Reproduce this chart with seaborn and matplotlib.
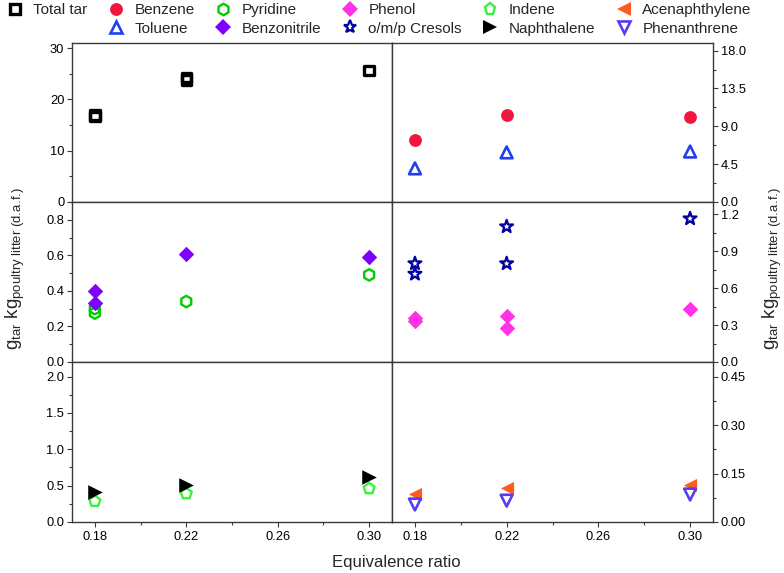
import numpy as np
import pandas as pd
import matplotlib
matplotlib.use("Agg")
import matplotlib.pyplot as plt
from matplotlib.lines import Line2D
from matplotlib.ticker import FixedLocator, FormatStrFormatter
import seaborn as sns

sns.set_style("ticks")
plt.rcParams['font.family'] = ['Liberation Sans', 'DejaVu Sans']
plt.rcParams['mathtext.fontset'] = 'custom'
plt.rcParams['mathtext.rm'] = 'Liberation Sans'
plt.rcParams['mathtext.it'] = 'Liberation Sans:italic'

# ---------------- data ----------------
tar_x = [0.18, 0.18, 0.22, 0.22, 0.30]
tar_y = [17.0, 16.7, 24.3, 23.8, 25.6]

benzene_x = [0.18, 0.22, 0.30]
benzene_y = [7.4, 10.4, 10.1]
toluene_x = [0.18, 0.22, 0.30]
toluene_y = [4.0, 5.9, 6.0]

pyridine_x = [0.18, 0.18, 0.22, 0.30]
pyridine_y = [0.30, 0.275, 0.34, 0.49]
benzonitrile_x = [0.18, 0.18, 0.22, 0.30]
benzonitrile_y = [0.40, 0.33, 0.605, 0.59]

phenol_x = [0.18, 0.18, 0.22, 0.22, 0.30]
phenol_y = [0.355, 0.33, 0.37, 0.275, 0.43]
cresols_x = [0.18, 0.18, 0.22, 0.22, 0.30]
cresols_y = [0.80, 0.715, 1.10, 0.80, 1.165]

indene_x = [0.18, 0.22, 0.30]
indene_y = [0.285, 0.39, 0.46]
naphthalene_x = [0.18, 0.22, 0.30]
naphthalene_y = [0.41, 0.515, 0.616]

acenaphthylene_x = [0.18, 0.22, 0.30]
acenaphthylene_y = [0.088, 0.105, 0.116]
phenanthrene_x = [0.18, 0.22, 0.30]
phenanthrene_y = [0.054, 0.066, 0.085]

x_ticks = [0.18, 0.22, 0.26, 0.30]
x_minor = [0.20, 0.24, 0.28]

# ---------------- styles ----------------
STY = {
    'Total tar':      dict(marker='s', s=46, fc='none', ec='black', lw=2.4),
    'Benzene':        dict(marker='o', s=85, fc='#f0163c', ec='#f0163c', lw=0),
    'Toluene':        dict(marker='^', s=72, fc='none', ec='#2040f0', lw=1.9),
    'Pyridine':       dict(marker='h', s=68, fc='none', ec='#00cc00', lw=1.7),
    'Benzonitrile':   dict(marker='D', s=62, fc='#8000ff', ec='#8000ff', lw=0),
    'Phenol':         dict(marker='D', s=62, fc='#ff33e6', ec='#ff33e6', lw=0),
    'o/m/p Cresols':  dict(marker='*', s=95, fc='none', ec='#0000a0', lw=1.6),
    'Indene':         dict(marker='p', s=68, fc='none', ec='#3cf03c', lw=1.7),
    'Naphthalene':    dict(marker='>', s=110, fc='black', ec='black', lw=0),
    'Acenaphthylene': dict(marker='<', s=90, fc='#ff5a1f', ec='#ff5a1f', lw=0),
    'Phenanthrene':   dict(marker='v', s=72, fc='none', ec='#5a3cf0', lw=1.9),
}

W, H = 784, 573
fig = plt.figure(figsize=(W / 100, H / 100), dpi=100)

def px_axes(x0, y0, x1, y1):
    return fig.add_axes([x0 / W, 1 - y1 / H, (x1 - x0) / W, (y1 - y0) / H])

rows = [(43, 202), (202, 362), (362, 522)]
cols = [(72, 392), (392, 713)]
axes = [[px_axes(c[0], r[0], c[1], r[1]) for c in cols] for r in rows]

def draw(ax, name, xs, ys):
    st = STY[name]
    df = pd.DataFrame({'x': xs, 'y': ys})
    sns.scatterplot(data=df, x='x', y='y', ax=ax, legend=False,
                    marker=st['marker'], s=st['s'], facecolor=st['fc'],
                    edgecolor=st['ec'], linewidth=st['lw'], zorder=3,
                    clip_on=False)

draw(axes[0][0], 'Total tar', tar_x, tar_y)
draw(axes[0][1], 'Benzene', benzene_x, benzene_y)
draw(axes[0][1], 'Toluene', toluene_x, toluene_y)
draw(axes[1][0], 'Pyridine', pyridine_x, pyridine_y)
draw(axes[1][0], 'Benzonitrile', benzonitrile_x, benzonitrile_y)
draw(axes[1][1], 'Phenol', phenol_x, phenol_y)
draw(axes[1][1], 'o/m/p Cresols', cresols_x, cresols_y)
draw(axes[2][0], 'Indene', indene_x, indene_y)
draw(axes[2][0], 'Naphthalene', naphthalene_x, naphthalene_y)
draw(axes[2][1], 'Acenaphthylene', acenaphthylene_x, acenaphthylene_y)
draw(axes[2][1], 'Phenanthrene', phenanthrene_x, phenanthrene_y)

ylims = [[(0, 31), (0, 18.9)], [(0, 0.9), (0, 1.3)], [(0, 2.2), (0, 0.495)]]
yticks = [[[0, 10, 20, 30], [0, 4.5, 9, 13.5, 18]],
          [[0, 0.2, 0.4, 0.6, 0.8], [0, 0.3, 0.6, 0.9, 1.2]],
          [[0, 0.5, 1.0, 1.5, 2.0], [0, 0.15, 0.30, 0.45]]]
yfmt = [['%d', '%.1f'], ['%.1f', '%.1f'], ['%.1f', '%.2f']]

spine_c = '#3a3a3a'
for i in range(3):
    for j in range(2):
        ax = axes[i][j]
        ax.set_xlim(0.17, 0.31)
        ax.set_ylim(*ylims[i][j])
        ax.xaxis.set_major_locator(FixedLocator(x_ticks))
        ax.xaxis.set_minor_locator(FixedLocator(x_minor))
        ax.xaxis.set_major_formatter(FormatStrFormatter('%.2f'))
        t = yticks[i][j]
        ax.yaxis.set_major_locator(FixedLocator(t))
        step = t[1] - t[0]
        ax.yaxis.set_minor_locator(FixedLocator([v + step / 2 for v in t]))
        ax.yaxis.set_major_formatter(FormatStrFormatter(yfmt[i][j]))
        ax.set_xlabel('')
        ax.set_ylabel('')
        for sp in ax.spines.values():
            sp.set_visible(True)
            sp.set_color(spine_c)
            sp.set_linewidth(1.0)
        ax.tick_params(which='both', direction='out', color=spine_c,
                       labelsize=9.3, labelcolor='black', width=0.8, pad=2)
        ax.tick_params(which='major', length=3.5)
        ax.tick_params(which='minor', length=2)
        if j == 0:
            ax.tick_params(axis='y', which='both', left=True, right=False,
                           labelleft=True, labelright=False)
        else:
            ax.tick_params(axis='y', which='both', left=False, right=True,
                           labelleft=False, labelright=True)
        ax.tick_params(axis='x', which='both', top=False, bottom=True,
                       labelbottom=(i == 2), pad=3)

ylabel = r'g$_{\mathrm{tar}}$ kg$_{\mathrm{poultry\ litter\ (d.\!a.\!f.\!)}}$'
fig.text(15 / W, 1 - 268 / H, ylabel, rotation=90, ha='center', va='center',
         fontsize=13.5)
fig.text(772 / W, 1 - 268 / H, ylabel, rotation=90, ha='center', va='center',
         fontsize=13.5)
fig.text(396 / W, 1 - 563 / H, 'Equivalence ratio', ha='center', va='center',
         fontsize=12)

# legend
order = ['Total tar', None, 'Benzene', 'Toluene', 'Pyridine', 'Benzonitrile',
         'Phenol', 'o/m/p Cresols', 'Indene', 'Naphthalene',
         'Acenaphthylene', 'Phenanthrene']
handles, labels = [], []
for name in order:
    if name is None:
        handles.append(Line2D([], [], ls='', marker=None))
        labels.append('')
        continue
    st = STY[name]
    handles.append(Line2D([], [], ls='', marker=st['marker'],
                          markersize=np.sqrt(st['s']),
                          markerfacecolor=st['fc'],
                          markeredgecolor=st['ec'],
                          markeredgewidth=st['lw']))
    labels.append(name)
fig.legend(handles, labels, ncol=6, loc='upper left',
           bbox_to_anchor=(7 / W, 1 - 3 / H), frameon=False, fontsize=11,
           handlelength=1.0, handletextpad=0.7, columnspacing=1.38,
           labelspacing=0.3, borderpad=0.0, borderaxespad=0.0)

fig.savefig('out.png', dpi=100)
